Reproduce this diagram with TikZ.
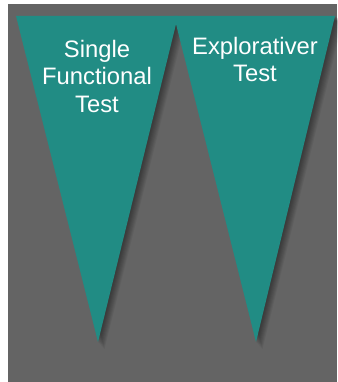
\documentclass[tikz,border=0pt]{standalone}
\usepackage{fontspec}
\setmainfont{Liberation Sans}
\usepackage{tikz}
\definecolor{BG}{RGB}{100, 100, 100}
\definecolor{TL}{RGB}{33, 140, 132}
\tikzset{
    wedge/.style={fill=TL, draw=none},
    shade/.style={fill=black, fill opacity=0.06, draw=none},
    label/.style={text=white, align=center, font=\fontsize{23.8}{27.5}\selectfont, inner sep=0pt},
}

\begin{document}
\begin{tikzpicture}[x=1pt, y=-1pt]
\useasboundingbox (0,0) rectangle (337,382);
\fill[BG] (8,4) rectangle (337,382);

% weiche Schatten
\foreach \s in {1,...,8}{
  \fill[shade] (16+\s,16+\s*0.6) -- (178+\s,16+\s*0.6) -- (98+\s*0.8,342+\s*0.9) -- cycle;
  \fill[shade] (174+\s,16+\s*0.6) -- (335+\s,16+\s*0.6) -- (256+\s*0.8,342+\s*0.9) -- cycle;
}

\fill[wedge] (16,16) -- (178,16) -- (98,342) -- cycle;
\fill[wedge] (174,16) -- (335,16) -- (256,342) -- cycle;

\node[label] (single) at (97,76) {Single\\Functional\\Test};
\node[label] (explor) at (255,59.5) {Explorativer\\Test};

\end{tikzpicture}
\end{document}
